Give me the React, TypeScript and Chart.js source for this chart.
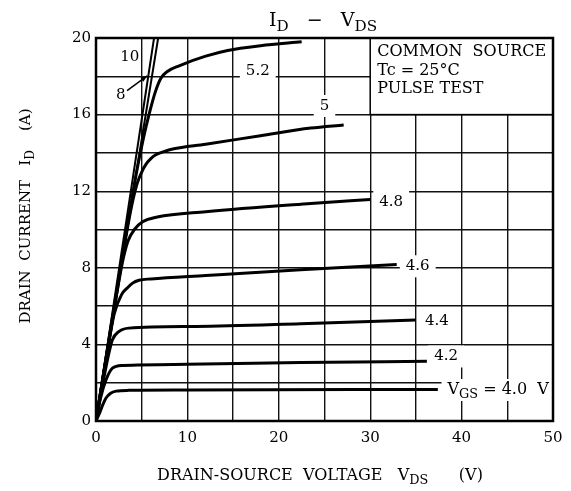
import React, { useEffect, useRef } from 'react';
import { Chart, registerables } from 'chart.js';

Chart.register(...registerables);

// ---- Data ----
const X_MIN = 0;
const X_MAX = 50;
const Y_MIN = 0;
const Y_MAX = 20;
const X_LABEL_EVERY = 10;
const Y_LABEL_EVERY = 4;

const VDS_10 = [0, 6.35];
const ID_10 = [0, 20];

const VDS_8 = [0, 6.8];
const ID_8 = [0, 20];

const VDS_52 = [0, 2.5, 4.4, 5.2, 5.8, 6.5, 7.1, 7.8, 9.1, 12, 14.4, 18, 22.5];
const ID_52 = [0, 7.5, 12.9, 14.8, 16.0, 17.2, 17.9, 18.25, 18.55, 19.05, 19.35, 19.6, 19.8];

const VDS_50 = [0, 2, 3.8, 4.5, 5.0, 5.46, 6.0, 6.55, 7.5, 8.4, 12, 18, 23.5, 27.1];
const ID_50 = [0, 5.9, 11.0, 12.4, 13.0, 13.4, 13.7, 13.9, 14.08, 14.2, 14.45, 14.9, 15.3, 15.46];

const VDS_48 = [0, 1.5, 2.9, 3.5, 4.2, 5.1, 6.7, 12, 23.5, 30];
const ID_48 = [0, 4.4, 8.3, 9.4, 10.0, 10.4, 10.65, 10.93, 11.36, 11.57];

const VDS_46 = [0, 1, 2, 2.8, 3.45, 4.0, 4.7, 6, 12, 22.4, 32.9];
const ID_46 = [0, 2.95, 5.6, 6.6, 6.96, 7.2, 7.35, 7.42, 7.6, 7.9, 8.17];

const VDS_44 = [0, 0.8, 1.3, 1.8, 2.5, 3.6, 10.9, 22.4, 35];
const ID_44 = [0, 2.1, 3.3, 4.24, 4.67, 4.85, 4.94, 5.08, 5.27];

const VDS_42 = [0, 0.5, 1.1, 1.8, 2.9, 10, 22.4, 36.2];
const ID_42 = [0, 1.2, 2.15, 2.76, 2.9, 2.96, 3.05, 3.12];

const VDS_40 = [0, 0.36, 0.7, 1.1, 1.6, 2.2, 3.6, 10, 37.4];
const ID_40 = [0, 0.38, 0.8, 1.2, 1.45, 1.56, 1.6, 1.62, 1.65];

const SERIES_VDS = [VDS_10, VDS_8, VDS_52, VDS_50, VDS_48, VDS_46, VDS_44, VDS_42, VDS_40];
const SERIES_ID = [ID_10, ID_8, ID_52, ID_50, ID_48, ID_46, ID_44, ID_42, ID_40];
const SERIES_NAMES = ['10', '8', '5.2', '5', '4.8', '4.6', '4.4', '4.2', '4.0'];

// curve labels (text, anchor in data coordinates)
const LABEL_TEXT = ['10', '8', '5.2', '5', '4.8', '4.6', '4.4', '4.2', 'V_{GS} = 4.0  V'];
const LABEL_X = [3.7, 2.7, 17.7, 25.0, 32.3, 35.2, 37.3, 38.3, 44.0];
const LABEL_Y = [19.0, 17.0, 18.27, 16.45, 11.45, 8.08, 5.2, 3.37, 1.62];
const LABEL_SIZE = [15, 15, 15, 15, 15, 15, 15, 15, 16];
const LABEL_BG = [false, false, true, true, true, true, true, true, true];

// arrow from "8" label to its line
const ARROW_X = [3.4, 5.6];
const ARROW_Y = [17.25, 18.02];

// note box region
const NOTE_X = [30, 50];
const NOTE_Y = [16, 20];
const NOTE_LINES = ['COMMON  SOURCE', 'Tc = 25°C', 'PULSE TEST'];

const TITLE = 'I_{D}   \u2212   V_{DS}';
const X_TITLE = 'DRAIN-SOURCE  VOLTAGE   V_{DS}      (V)';
const Y_TITLE = 'DRAIN  CURRENT   I_{D}    (A)';

const FONT = '"DejaVu Serif", serif';

type Part = { t: string; sub: boolean };
function parseRich(s: string): Part[] {
  const parts: Part[] = [];
  const re = /_\{([^}]*)\}/g;
  let last = 0;
  let m: RegExpExecArray | null;
  while ((m = re.exec(s))) {
    if (m.index > last) parts.push({ t: s.slice(last, m.index), sub: false });
    parts.push({ t: m[1], sub: true });
    last = m.index + m[0].length;
  }
  if (last < s.length) parts.push({ t: s.slice(last), sub: false });
  return parts;
}

function richWidth(ctx: CanvasRenderingContext2D, s: string, size: number) {
  let w = 0;
  for (const p of parseRich(s)) {
    ctx.font = `${p.sub ? size * 0.8 : size}px ${FONT}`;
    w += ctx.measureText(p.t).width;
  }
  return w;
}

function drawRich(ctx: CanvasRenderingContext2D, s: string, x: number, y: number, size: number, align: 'left' | 'center') {
  const w = richWidth(ctx, s, size);
  let cx = align === 'center' ? x - w / 2 : x;
  ctx.textBaseline = 'middle';
  ctx.textAlign = 'left';
  for (const p of parseRich(s)) {
    ctx.font = `${p.sub ? size * 0.8 : size}px ${FONT}`;
    ctx.fillText(p.t, cx, p.sub ? y + size * 0.32 : y);
    cx += ctx.measureText(p.t).width;
  }
}

const decorPlugin = {
  id: 'decor',
  beforeDatasetsDraw(chart: any) {
    const { ctx, scales } = chart;
    const xs = scales.x;
    const ys = scales.y;
    ctx.save();
    ctx.fillStyle = '#fff';
    LABEL_TEXT.forEach((t, i) => {
      if (!LABEL_BG[i]) return;
      const px = xs.getPixelForValue(LABEL_X[i]);
      const py = ys.getPixelForValue(LABEL_Y[i]);
      const w = richWidth(ctx, t, LABEL_SIZE[i]);
      ctx.fillRect(px - w / 2 - 6, py - 11, w + 12, 22);
    });
    ctx.restore();
  },
  afterDatasetsDraw(chart: any) {
    const { ctx, scales, chartArea } = chart;
    const xs = scales.x;
    const ys = scales.y;
    ctx.save();
    ctx.fillStyle = '#000';
    ctx.strokeStyle = '#000';
    // curve labels
    LABEL_TEXT.forEach((t, i) => {
      const px = xs.getPixelForValue(LABEL_X[i]);
      const py = ys.getPixelForValue(LABEL_Y[i]);
      drawRich(ctx, t, px, py, LABEL_SIZE[i], 'center');
    });
    // arrow
    const ax0 = xs.getPixelForValue(ARROW_X[0]);
    const ay0 = ys.getPixelForValue(ARROW_Y[0]);
    const ax1 = xs.getPixelForValue(ARROW_X[1]);
    const ay1 = ys.getPixelForValue(ARROW_Y[1]);
    ctx.lineWidth = 1.5;
    ctx.beginPath();
    ctx.moveTo(ax0, ay0);
    ctx.lineTo(ax1, ay1);
    ctx.stroke();
    const ang = Math.atan2(ay1 - ay0, ax1 - ax0);
    ctx.beginPath();
    ctx.moveTo(ax1, ay1);
    ctx.lineTo(ax1 - 7 * Math.cos(ang - 0.35), ay1 - 7 * Math.sin(ang - 0.35));
    ctx.lineTo(ax1 - 7 * Math.cos(ang + 0.35), ay1 - 7 * Math.sin(ang + 0.35));
    ctx.closePath();
    ctx.fill();
    // note box
    const bx0 = xs.getPixelForValue(NOTE_X[0]);
    const bx1 = xs.getPixelForValue(NOTE_X[1]);
    const by0 = ys.getPixelForValue(NOTE_Y[1]);
    const by1 = ys.getPixelForValue(NOTE_Y[0]);
    ctx.fillStyle = '#fff';
    ctx.fillRect(bx0, by0, bx1 - bx0, by1 - by0);
    ctx.lineWidth = 1.5;
    ctx.strokeRect(bx0, by0, bx1 - bx0, by1 - by0);
    ctx.fillStyle = '#000';
    ctx.font = `16px ${FONT}`;
    ctx.textAlign = 'left';
    ctx.textBaseline = 'alphabetic';
    NOTE_LINES.forEach((l, i) => {
      ctx.fillText(l, bx0 + 7, by0 + 18 + i * 18.5);
    });
    // frame
    ctx.lineWidth = 2.5;
    ctx.strokeRect(chartArea.left, chartArea.top, chartArea.right - chartArea.left, chartArea.bottom - chartArea.top);
    ctx.restore();
  },
  afterDraw(chart: any) {
    const { ctx } = chart;
    ctx.save();
    ctx.fillStyle = '#000';
    drawRich(ctx, TITLE, 323, 21, 19, 'center');
    drawRich(ctx, X_TITLE, 320, 476, 16, 'center');
    ctx.translate(26, 216);
    ctx.rotate(-Math.PI / 2);
    drawRich(ctx, Y_TITLE, 0, 0, 15, 'center');
    ctx.restore();
  },
};

export default function App() {
  const canvasRef = useRef<HTMLCanvasElement | null>(null);

  useEffect(() => {
    const canvas = canvasRef.current;
    if (!canvas) return;
    const datasets = SERIES_VDS.map((vds, i) => ({
      label: SERIES_NAMES[i],
      data: vds.map((v, j) => ({ x: v, y: SERIES_ID[i][j] })),
      borderColor: '#000',
      borderWidth: i < 2 ? 2 : 3,
      pointRadius: 0,
      fill: false,
      cubicInterpolationMode: 'monotone' as const,
    }));
    const chart = new Chart(canvas, {
      type: 'line',
      data: { datasets },
      options: {
        responsive: false,
        animation: false,
        events: [],
        layout: { padding: { left: 0, right: 18, top: 38, bottom: 0 } },
        plugins: {
          legend: { display: false },
          tooltip: { enabled: false },
          title: { display: false },
        },
        scales: {
          x: {
            type: 'linear',
            min: X_MIN,
            max: X_MAX,
            afterFit: (s: any) => {
              s.height = 70;
            },
            border: { display: false },
            grid: { color: '#111', lineWidth: 1.4, drawTicks: false },
            ticks: {
              stepSize: 5,
              autoSkip: false,
              maxRotation: 0,
              padding: 8,
              color: '#000',
              font: { family: FONT, size: 15 },
              callback: (v: any) => (Number(v) % X_LABEL_EVERY === 0 ? String(v) : ''),
            },
          },
          y: {
            type: 'linear',
            min: Y_MIN,
            max: Y_MAX,
            afterFit: (s: any) => {
              s.width = 96;
            },
            border: { display: false },
            grid: { color: '#111', lineWidth: 1.4, drawTicks: false },
            ticks: {
              stepSize: 2,
              autoSkip: false,
              padding: 5,
              color: '#000',
              font: { family: FONT, size: 15 },
              callback: (v: any) => (Number(v) % Y_LABEL_EVERY === 0 ? String(v) : ''),
            },
          },
        },
      },
      plugins: [decorPlugin],
    });
    return () => chart.destroy();
  }, []);

  return (
    <div style={{ position: 'absolute', left: 0, top: 0, width: 571, height: 491, background: '#fff' }}>
      <canvas ref={canvasRef} width={571} height={491} style={{ display: 'block' }} />
    </div>
  );
}
